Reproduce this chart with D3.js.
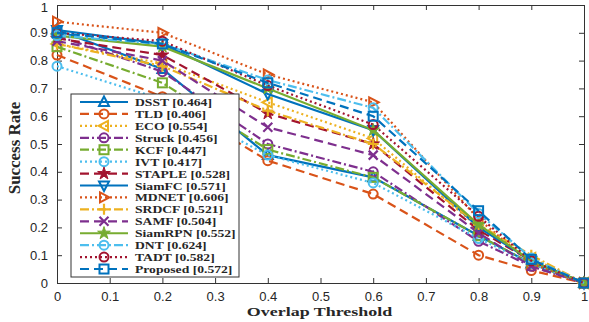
<!DOCTYPE html>
<meta charset="utf-8">
<title>Success Rate vs Overlap Threshold</title>
<script src="https://d3js.org/d3.v7.min.js"></script>
<style>
body { margin: 0; background: #fff; }
.tick text { font-family: "Liberation Sans", Arial, sans-serif; font-size: 13px; fill: #262626; }
.lbl { font-family: "Liberation Serif", "Times New Roman", serif; font-weight: bold; fill: #262626; }
</style>
<body>
<div id="chart"></div>
<script>
// thresholds where each tracker was measured
var thresholds = [0, 0.2, 0.4, 0.6, 0.8, 0.9, 1];
var xTicks = [0, 0.1, 0.2, 0.3, 0.4, 0.5, 0.6, 0.7, 0.8, 0.9, 1];
var yTicks = [0, 0.1, 0.2, 0.3, 0.4, 0.5, 0.6, 0.7, 0.8, 0.9, 1];

// success rate for each tracker, legend order
var names = ["DSST", "TLD", "ECO", "Struck", "KCF", "IVT", "STAPLE", "SiamFC",
             "MDNET", "SRDCF", "SAMF", "SiamRPN", "DNT", "TADT", "Proposed"];
var aucs = ["0.464", "0.406", "0.554", "0.456", "0.447", "0.417", "0.528", "0.571",
            "0.606", "0.521", "0.504", "0.552", "0.624", "0.582", "0.572"];
var dsst     = [0.91, 0.77, 0.46, 0.38, 0.17, 0.07, 0];
var tld      = [0.82, 0.67, 0.44, 0.32, 0.10, 0.045, 0];
var eco      = [0.86, 0.79, 0.65, 0.52, 0.20, 0.09, 0];
var struck   = [0.89, 0.76, 0.50, 0.40, 0.15, 0.06, 0];
var kcf      = [0.85, 0.72, 0.48, 0.38, 0.17, 0.07, 0];
var ivt      = [0.78, 0.66, 0.46, 0.36, 0.16, 0.07, 0];
var staple   = [0.88, 0.82, 0.61, 0.50, 0.19, 0.08, 0];
var siamfc   = [0.91, 0.86, 0.68, 0.55, 0.20, 0.08, 0];
var mdnet    = [0.94, 0.90, 0.75, 0.65, 0.23, 0.07, 0];
var srdcf    = [0.86, 0.78, 0.62, 0.50, 0.21, 0.10, 0];
var samf     = [0.87, 0.80, 0.56, 0.46, 0.18, 0.06, 0];
var siamrpn  = [0.89, 0.85, 0.70, 0.55, 0.21, 0.08, 0];
var dnt      = [0.89, 0.86, 0.73, 0.63, 0.25, 0.09, 0];
var tadt     = [0.90, 0.87, 0.71, 0.57, 0.24, 0.08, 0];
var proposed = [0.90, 0.86, 0.72, 0.60, 0.26, 0.085, 0];
var values = [dsst, tld, eco, struck, kcf, ivt, staple, siamfc,
              mdnet, srdcf, samf, siamrpn, dnt, tadt, proposed];

// matlab default colour order
var blue = "#0072BD", orange = "#D95319", yellow = "#EDB120", purple = "#7E2F8E",
    green = "#77AC30", cyan = "#4DBEEE", red = "#A2142F";
var colors = [blue, orange, yellow, purple, green, cyan, red, blue,
              orange, yellow, purple, green, cyan, red, blue];
var dashes = ["", "9,5", "2,3", "9,3,2,3", "9,3,2,3", "2,3", "9,5", "",
              "2,3", "9,3,2,3", "9,5", "", "9,3,2,3", "2,3", "9,5"];
var markers = ["tri", "circle", "tril", "circle", "square", "circle", "star", "triv",
               "trir", "plus", "cross", "star", "circle", "circle", "square"];

var width = 589, height = 322;
var margin = {top: 5, right: 5, bottom: 39, left: 57};
var w = width - margin.left - margin.right,
    h = height - margin.top - margin.bottom;

var svg = d3.select("#chart").append("svg")
    .attr("width", width).attr("height", height);
var g = svg.append("g")
    .attr("transform", "translate(" + margin.left + "," + margin.top + ")");

var x = d3.scaleLinear().domain([0, 1]).range([0, w]);
var y = d3.scaleLinear().domain([0, 1]).range([h, 0]);

// axes with inward ticks, box on
g.append("g").attr("transform", "translate(0," + h + ")")
  .call(d3.axisBottom(x).tickValues(xTicks).tickSize(-5).tickPadding(9).tickFormat(d3.format("")));
var yAxis = g.append("g")
  .call(d3.axisLeft(y).tickValues(yTicks).tickSize(-5).tickPadding(9).tickFormat(d3.format("")));
// keep the top label inside the page
yAxis.selectAll(".tick text").filter(function(d) { return d == 1; }).attr("dy", "0.5em");
g.append("g")
  .call(d3.axisTop(x).tickValues(xTicks).tickSize(-5).tickFormat(""));
g.append("g").attr("transform", "translate(" + w + ",0)")
  .call(d3.axisRight(y).tickValues(yTicks).tickSize(-5).tickFormat(""));
g.selectAll(".domain, .tick line").attr("stroke", "#333");

var line = d3.line()
  .x(function(d, i) { return x(thresholds[i]); })
  .y(function(d) { return y(d); });

function drawMarker(sel, type, c) {
  var s = 4.5;
  if (type == "circle") {
    sel.append("circle").attr("r", s).attr("fill", "none").attr("stroke", c).attr("stroke-width", 2);
  } else if (type == "square") {
    sel.append("rect").attr("x", -s).attr("y", -s).attr("width", 2 * s).attr("height", 2 * s)
      .attr("fill", "none").attr("stroke", c).attr("stroke-width", 2);
  } else if (type == "plus") {
    sel.append("path").attr("d", "M-5.5,0H5.5M0,-5.5V5.5").attr("stroke", c).attr("stroke-width", 2.2);
  } else if (type == "cross") {
    sel.append("path").attr("d", "M-4.5,-4.5L4.5,4.5M-4.5,4.5L4.5,-4.5").attr("stroke", c).attr("stroke-width", 2.2);
  } else if (type == "star") {
    sel.append("path").attr("d", d3.symbol(d3.symbolStar, 50)()).attr("fill", c).attr("stroke", c);
  } else {
    var rot = {tri: 0, triv: 180, tril: -90, trir: 90}[type];
    sel.append("path").attr("d", "M0,-5.5L5,4L-5,4Z")
      .attr("transform", "rotate(" + rot + ")")
      .attr("fill", "none").attr("stroke", c).attr("stroke-width", 2);
  }
}

values.forEach(function(vals, k) {
  g.append("path").datum(vals)
    .attr("fill", "none")
    .attr("stroke", colors[k])
    .attr("stroke-width", 2.2)
    .attr("stroke-dasharray", dashes[k])
    .attr("d", line);
  vals.forEach(function(v, i) {
    var m = g.append("g").attr("transform", "translate(" + x(thresholds[i]) + "," + y(v) + ")");
    drawMarker(m, markers[k], colors[k]);
  });
});

// legend
var lg = svg.append("g").attr("transform", "translate(71,94)");
lg.append("rect").attr("width", 168).attr("height", 183)
  .attr("fill", "#fff").attr("stroke", "#333").attr("stroke-width", 1);
names.forEach(function(n, k) {
  var yy = 8 + k * 11.93;
  lg.append("line").attr("x1", 9).attr("x2", 57).attr("y1", yy).attr("y2", yy)
    .attr("stroke", colors[k]).attr("stroke-width", 2.2).attr("stroke-dasharray", dashes[k]);
  drawMarker(lg.append("g").attr("transform", "translate(33," + yy + ")"), markers[k], colors[k]);
  lg.append("text").attr("class", "lbl")
    .attr("transform", "translate(64," + (yy + 4) + ") scale(1.24,1)")
    .style("font-size", "11px").text(n + " [" + aucs[k] + "]");
});

// axis labels
svg.append("text").attr("class", "lbl")
  .attr("transform", "translate(" + (margin.left + w / 2 - 1) + ",316) scale(1.38,1)")
  .attr("text-anchor", "middle").style("font-size", "13px")
  .text("Overlap Threshold");
svg.append("text").attr("class", "lbl")
  .attr("transform", "translate(20," + (margin.top + h / 2 + 4) + ") rotate(-90) scale(1.3,1.3)")
  .attr("text-anchor", "middle").style("font-size", "13px")
  .text("Success Rate");
</script>
</body>
